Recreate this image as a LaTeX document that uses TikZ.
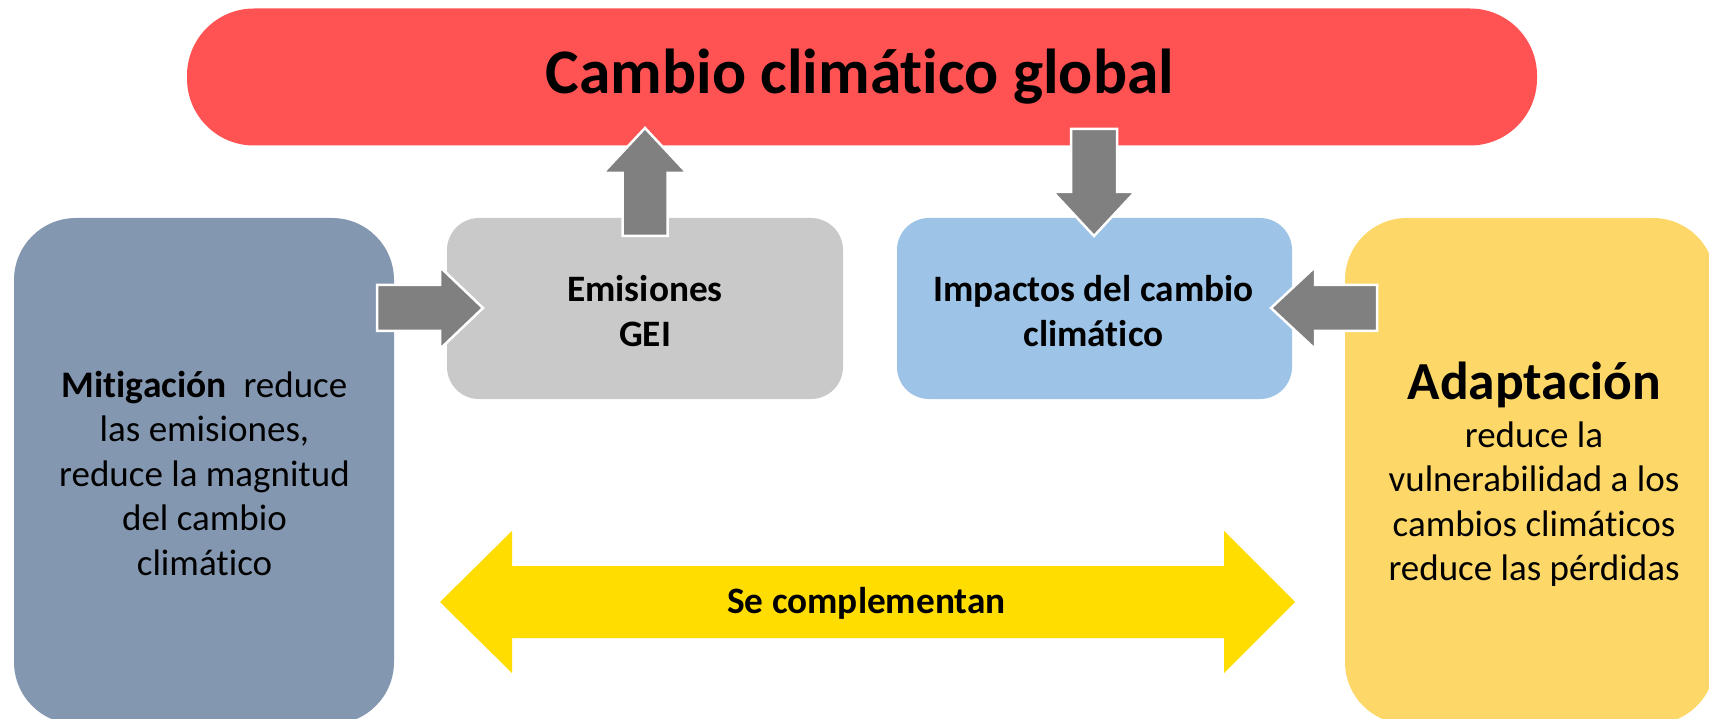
\documentclass[tikz,border=0pt]{standalone}
\usepackage{fontspec}
\setmainfont{Carlito}[Ligatures=NoCommon]
\definecolor{redc}{HTML}{FF5252}
\definecolor{mitc}{HTML}{8497B0}
\definecolor{emic}{HTML}{C9C9C9}
\definecolor{impc}{HTML}{9DC3E6}
\definecolor{adac}{HTML}{FDD868}
\definecolor{arrc}{HTML}{808080}
\definecolor{yelc}{HTML}{FFDD00}
\tikzset{
  boxnode/.style={inner sep=0pt, outer sep=0pt},
  txt/.style={align=center, inner sep=0pt, font=\fontsize{37}{44.5}\selectfont},
  btxt/.style={align=center, inner sep=0pt, font=\bfseries\fontsize{37.3}{45}\selectfont},
  grayarrow/.style={fill=arrc, draw=white, line width=2.5pt, line join=miter},
  yelarrow/.style={fill=yelc}
}
\begin{document}
\begin{tikzpicture}[x=1pt,y=-1pt]
\clip (0,0) rectangle (1709,719);
\fill[white] (0,0) rectangle (1709,719);
% boxes
\node[boxnode, fill=redc, minimum width=1350pt, minimum height=137pt, rounded corners=67pt] (top) at (862,77) {};
\node[boxnode, fill=mitc, minimum width=380pt, minimum height=506pt, rounded corners=62pt] (mit) at (204,471) {};
\node[boxnode, fill=emic, minimum width=396pt, minimum height=181pt, rounded corners=32pt] (emi) at (645,308.5) {};
\node[boxnode, fill=impc, minimum width=395pt, minimum height=181pt, rounded corners=32pt] (imp) at (1094.5,308.5) {};
\node[boxnode, fill=adac, minimum width=370pt, minimum height=506pt, rounded corners=62pt] (ada) at (1530,471) {};
% texts
\node[inner sep=0pt, font=\bfseries\fontsize{63.5}{75}\selectfont] (toptxt) at (860,77) {Cambio climático global};
\node[btxt] (emitxt) at (645,311) {Emisiones\\GEI};
\node[btxt] (imptxt) at (1093.5,311) {Impactos del cambio\\climático};
\node[txt] (mittxt) at (204.5,473) {{\bfseries\fontsize{37.5}{44.5}\selectfont Mitigación}\ \ reduce\\las emisiones,\\reduce la magnitud\\del cambio\\climático};
\node[inner sep=0pt, font=\bfseries\fontsize{53.5}{60}\selectfont] (adatitle) at (1534.5,385) {Adaptación};
\node[txt] (adatxt) at (1534,504) {reduce la\\vulnerabilidad a los\\cambios climáticos\\reduce las pérdidas};
% gray block arrows
\draw[grayarrow] (622.5,236) -- (622.5,173) -- (603,173) -- (645,128) -- (687,173) -- (667.5,173) -- (667.5,236) -- cycle;
\draw[grayarrow] (1071,129) -- (1071,192) -- (1053,192) -- (1094,236) -- (1135,192) -- (1117,192) -- (1117,129) -- cycle;
\draw[grayarrow] (377,285) -- (440,285) -- (440,267) -- (483,308) -- (440,349) -- (440,331) -- (377,331) -- cycle;
\draw[grayarrow] (1377,285) -- (1315,285) -- (1315,267) -- (1271,308) -- (1315,349) -- (1315,331) -- (1377,331) -- cycle;
% yellow double arrow
\fill[yelarrow] (440,602) -- (512,531) -- (512,566) -- (1224,566) -- (1224,531) -- (1295,602) -- (1224,673) -- (1224,638) -- (512,638) -- (512,673) -- cycle;
\node[btxt] (comp) at (866.5,603) {Se complementan};
\end{tikzpicture}
\end{document}
